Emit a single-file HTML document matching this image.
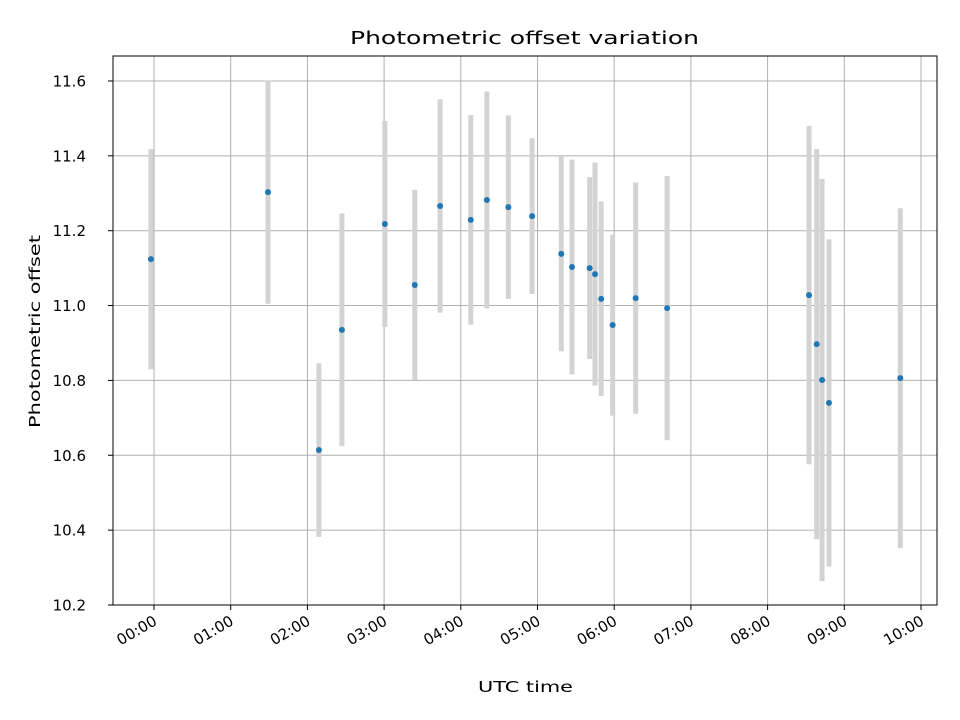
<!DOCTYPE html>
<html><head><meta charset="utf-8"><style>
body{margin:0;background:#fff}
svg{display:block;font-family:"DejaVu Sans","Liberation Sans",sans-serif}
</style></head><body>
<svg id="chart" width="960" height="720" xmlns="http://www.w3.org/2000/svg">
<rect width="960" height="720" fill="#fff"/>
<g id="grid"></g>
<g id="bars"></g>
<g id="pts"></g>
<rect x="113" y="56" width="824" height="549" fill="none" stroke="#000" stroke-width="1"/>
<g id="axes"></g>
<text x="350" y="44" font-size="18" textLength="349" lengthAdjust="spacingAndGlyphs">Photometric offset variation</text>
<text x="478" y="692" font-size="15" textLength="95" lengthAdjust="spacingAndGlyphs">UTC time</text>
<text transform="translate(40,428) rotate(-90)" font-size="15" textLength="193" lengthAdjust="spacingAndGlyphs">Photometric offset</text>
</svg>
<script>
const hours=[-0.04,1.486,2.15,2.45,3.01,3.40,3.73,4.13,4.34,4.62,4.93,5.31,5.45,5.68,5.75,5.83,5.98,6.28,6.69,8.54,8.64,8.71,8.80,9.73];
const offsets=[11.124,11.303,10.614,10.935,11.218,11.055,11.266,11.229,11.282,11.263,11.239,11.138,11.103,11.1,11.084,11.018,10.948,11.02,10.993,11.028,10.897,10.801,10.74,10.806];
const errors=[0.294,0.298,0.232,0.311,0.275,0.254,0.285,0.28,0.29,0.245,0.208,0.26,0.287,0.243,0.298,0.26,0.242,0.309,0.353,0.452,0.521,0.537,0.437,0.454];
const xTicks=[0,1,2,3,4,5,6,7,8,9,10];
const xTickLabels=["00:00","01:00","02:00","03:00","04:00","05:00","06:00","07:00","08:00","09:00","10:00"];
const yTicks=[10.2,10.4,10.6,10.8,11.0,11.2,11.4,11.6];
const yTickLabels=["10.2","10.4","10.6","10.8","11.0","11.2","11.4","11.6"];
const NS="http://www.w3.org/2000/svg";
const X=h=>154+h*76.7;
const Y=v=>605-(v-10.2)*374.3;
function mk(tag,attrs,parent){const e=document.createElementNS(NS,tag);for(const k in attrs)e.setAttribute(k,attrs[k]);parent.appendChild(e);return e;}
const grid=document.getElementById('grid'),axes=document.getElementById('axes'),bars=document.getElementById('bars'),pts=document.getElementById('pts');
xTicks.forEach((t,i)=>{const x=X(t);
 const g=mk('line',{x1:x,x2:x,y1:56,y2:605,stroke:'#b0b0b0','stroke-width':1},grid);
 
 const tk=mk('line',{x1:x,x2:x,y1:605,y2:610,stroke:'#000'},axes);
 
 const tx=mk('text',{transform:`translate(${x+4},${624}) rotate(-30)`,'font-size':15,'text-anchor':'end'},axes);
 tx.textContent=xTickLabels[i];
 
});
yTicks.forEach((t,i)=>{const y=Y(t);
 const g=mk('line',{x1:113,x2:937,y1:y,y2:y,stroke:'#b0b0b0','stroke-width':1},grid);
 
 const tk=mk('line',{x1:108,x2:113,y1:y,y2:y,stroke:'#000'},axes);
 
 const tx=mk('text',{x:86,y:y+5.5,'font-size':15,'text-anchor':'end'},axes);
 tx.textContent=yTickLabels[i];
 
});
hours.forEach((h,i)=>{const x=X(h);
 const b=mk('line',{x1:x,x2:x,y1:Y(offsets[i]+errors[i]),y2:Y(offsets[i]-errors[i]),stroke:'#d3d3d3','stroke-width':5},bars);
 
 const c=mk('circle',{cx:x,cy:Y(offsets[i]),r:3,fill:'#1f77b4'},pts);
 
});
</script>
</body></html>
